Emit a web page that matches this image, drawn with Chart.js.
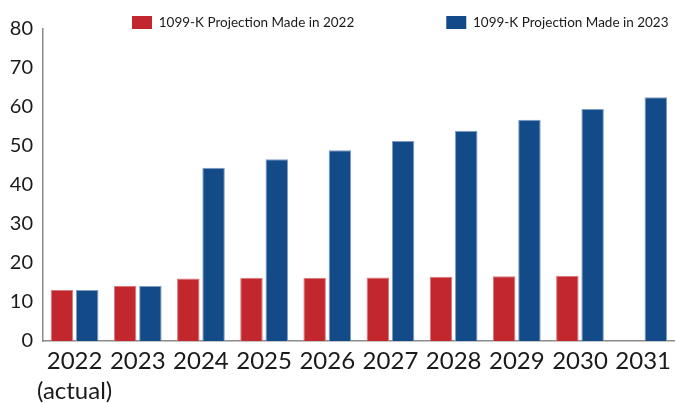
<!DOCTYPE html>
<html>
<head>
<meta charset="utf-8">
<script src="https://cdn.jsdelivr.net/npm/chart.js@4.4.1/dist/chart.umd.min.js"></script>
<style>
  html, body { margin: 0; padding: 0; background: #fff; overflow: hidden; }
  #wrap { width: 676px; height: 403px; position: relative; }
</style>
</head>
<body>
<div id="wrap"><canvas id="c" width="676" height="403"></canvas></div>
<script>
const categories = [['2022', '(actual)'], '2023', '2024', '2025', '2026', '2027', '2028', '2029', '2030', '2031'];
const seriesNames = ['1099-K Projection Made in 2022', '1099-K Projection Made in 2023'];
const projection2022 = [13.1, 14.1, 16.0, 16.2, 16.2, 16.3, 16.5, 16.6, 16.7, null];
const projection2023 = [13.1, 14.1, 44.4, 46.6, 48.9, 51.3, 53.9, 56.7, 59.5, 62.5];
const yTicks = [0, 10, 20, 30, 40, 50, 60, 70, 80];

const LEG_PAD = 92;
const legendPlace = {
  id: 'legendPlace',
  afterLayout(chart) {
    const lg = chart.legend;
    if (!lg) return;
    lg.top = 16 - LEG_PAD;
    lg.left = 132 - LEG_PAD;
    lg.right = 3000;
  }
};

new Chart(document.getElementById('c'), {
  type: 'bar',
  data: {
    labels: categories,
    datasets: [
      {
        label: seriesNames[0],
        data: projection2022,
        backgroundColor: '#c1272d',
        borderColor: '#d8787b',
        borderWidth: { left: 1, right: 1, top: 1, bottom: 0 },
        borderSkipped: 'bottom'
      },
      {
        label: seriesNames[1],
        data: projection2023,
        backgroundColor: '#124b88',
        borderColor: '#7f9cc4',
        borderWidth: { left: 1, right: 1, top: 1, bottom: 0 },
        borderSkipped: 'bottom'
      }
    ]
  },
  options: {
    responsive: false,
    animation: false,
    devicePixelRatio: 1,
    layout: { padding: 0 },
    datasets: { bar: { categoryPercentage: 0.8, barPercentage: 0.89 } },
    plugins: {
      legend: {
        position: 'top',
        align: 'start',
        maxHeight: 29,
        labels: {
          boxWidth: 20,
          boxHeight: 14,
          padding: LEG_PAD,
          color: '#1a1a1a',
          font: { family: 'Lato', size: 13.5 },
          generateLabels(chart) {
            return chart.data.datasets.map((ds, i) => ({
              text: ds.label,
              fillStyle: ds.backgroundColor,
              strokeStyle: ds.backgroundColor,
              lineWidth: 0,
              hidden: false,
              datasetIndex: i,
              fontColor: '#1a1a1a'
            }));
          }
        }
      },
      tooltip: { enabled: false }
    },
    scales: {
      x: {
        grid: { display: false, drawTicks: false },
        border: { display: true, color: '#8c8c8c', width: 1.5 },
        ticks: {
          color: '#1a1a1a',
          font: { family: 'Lato', size: 24, lineHeight: 1.25 },
          padding: 5,
          maxRotation: 0,
          autoSkip: false
        },
        afterFit(scale) { scale.height = 62; }
      },
      y: {
        min: 0,
        max: 80,
        afterBuildTicks(scale) { scale.ticks = yTicks.map(v => ({ value: v })); },
        grid: { display: false, drawTicks: false },
        border: { display: true, color: '#8c8c8c', width: 1.5 },
        ticks: {
          color: '#1a1a1a',
          font: { family: 'Lato', size: 20 },
          padding: 10
        },
        afterFit(scale) { scale.width = 43; }
      }
    }
  },
  plugins: [legendPlace]
});
</script>
</body>
</html>
